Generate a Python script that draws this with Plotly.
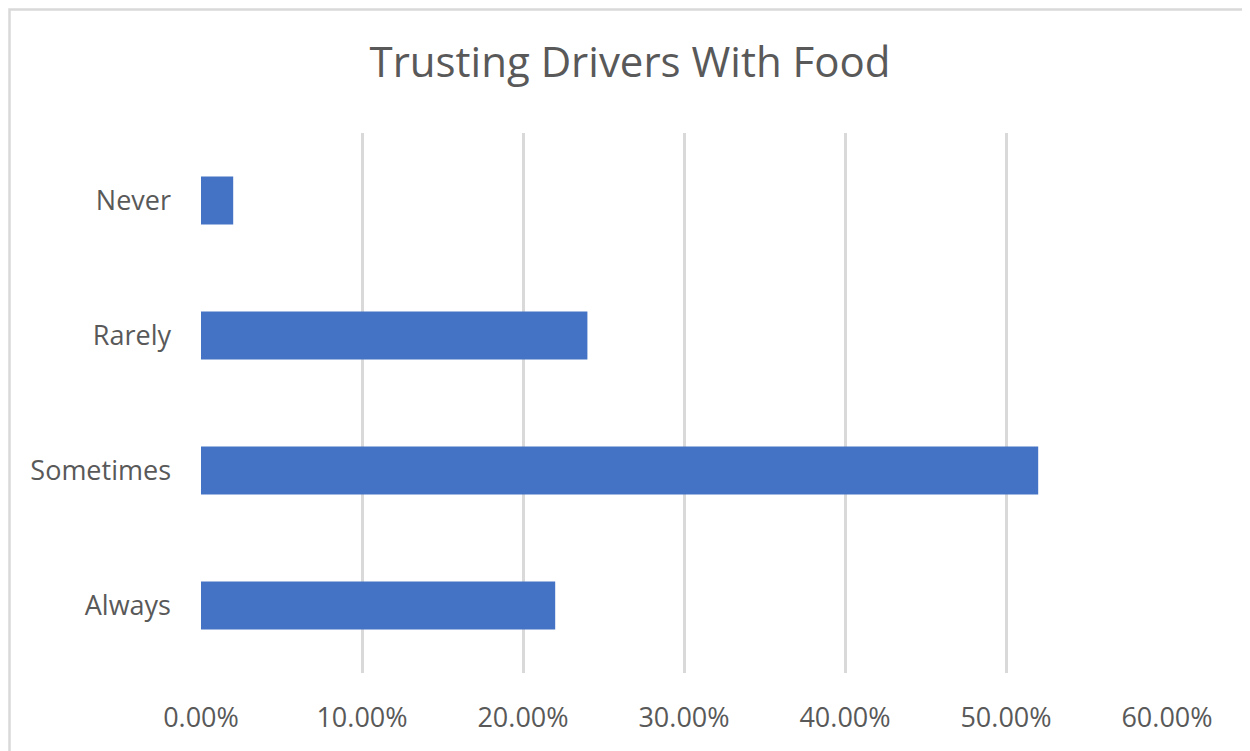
import plotly.graph_objects as go

categories = ["Always", "Sometimes", "Rarely", "Never"]
values = [0.22, 0.52, 0.24, 0.02]
tick_vals = [0, 0.1, 0.2, 0.3, 0.4, 0.5, 0.6]
tick_text = ["0.00%", "10.00%", "20.00%", "30.00%", "40.00%", "50.00%", "60.00%"]

# page body has an 8px margin; compensate
W, H = 1242, 743
L, R, T, B = 193, 83, 125, 78
pw, ph = W - L - R, H - T - B

fig = go.Figure(go.Bar(
    x=values, y=categories, orientation="h",
    marker=dict(color="#4472C4", line=dict(width=0)),
    width=0.355,
))

font = "Open Sans, Lato, sans-serif"
fig.update_layout(
    width=W, height=H,
    margin=dict(l=L, r=R, t=T, b=B),
    paper_bgcolor="white", plot_bgcolor="white",
    showlegend=False,
    title=dict(text="Trusting Drivers With Food", x=(630 - 8) / W, xanchor="center",
               y=1 - (62 - 8) / H, yanchor="middle",
               font=dict(family=font, size=42, color="#595959")),
    xaxis=dict(range=[0, 0.6], tickvals=tick_vals, ticktext=tick_text,
               showgrid=True, gridcolor="#d9d9d9", gridwidth=2.5,
               zeroline=False, showline=False, ticks="",
               ticklabelstandoff=26,
               tickfont=dict(family=font, size=27, color="#595959")),
    yaxis=dict(range=[-0.5, 3.5], showgrid=False, zeroline=False, showline=False,
               ticks="", ticklabelstandoff=29,
               tickfont=dict(family=font, size=27, color="#595959")),
    shapes=[dict(type="rect", xref="paper", yref="paper",
                 x0=(1.5 - L) / pw, x1=(W + 20 - L) / pw,
                 y0=-(B + 20) / ph, y1=(H - B - 1.5) / ph,
                 line=dict(color="#d9d9d9", width=2.5), fillcolor="rgba(0,0,0,0)",
                 layer="below")],
)
fig.write_html("out.html")
